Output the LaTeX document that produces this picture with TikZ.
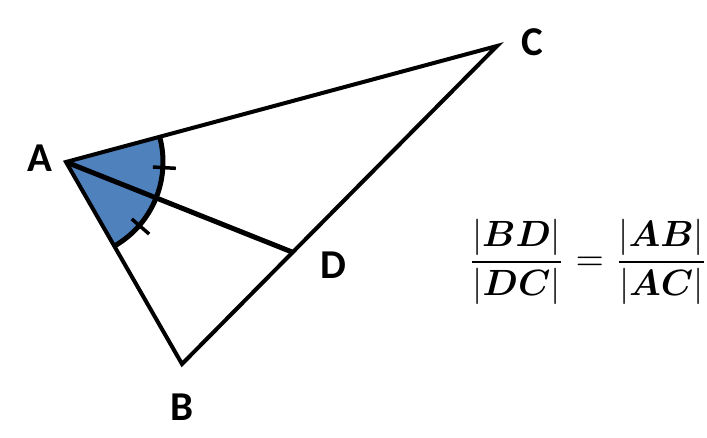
\documentclass[tikz,border=0pt]{standalone}
\usepackage{amsmath}
\usepackage{fontspec}
\usetikzlibrary{calc}
\newfontfamily\lblfont{Carlito}
\definecolor{fillblue}{HTML}{4F81BD}
\begin{document}
\begin{tikzpicture}[x=1pt,y=-1pt,
  edge/.style={line width=4pt},
  lbl/.style={font=\lblfont\bfseries\fontsize{41}{44}\selectfont,inner sep=0pt},
  tick/.style={line width=3.5pt}]
\useasboundingbox (0,0) rectangle (707,438);
\coordinate (A) at (66,162);
\coordinate (C) at (497,46);
\coordinate (B) at (182,364);
\coordinate (D) at (292,252);
% angle sector
\fill[fillblue] (A) -- ++(-15.06:97) arc[start angle=-15.06,end angle=60.1,radius=97] -- cycle;
\draw[edge] (A) -- (C) -- (B) -- cycle;
\draw[line width=5pt] (A) -- (D);
\draw[line width=5pt] ($(A)+(-15.06:97)$) arc[start angle=-15.06,end angle=60.1,radius=97];
\draw[tick] ($(A)+(3.3:87)$) -- ($(A)+(3.3:110)$);
\draw[tick] ($(A)+(40.9:87)$) -- ($(A)+(40.9:110)$);
\node[lbl] (la) at (40,158) {A};
\node[lbl] (lc) at (532,42) {C};
\node[lbl] (lb) at (182,407) {B};
\node[lbl] (ld) at (333,265) {D};
\node[inner sep=0pt,scale=3.65] (f) at (588,262) {$\dfrac{|\boldsymbol{BD}|}{|\boldsymbol{DC}|}=\dfrac{|\boldsymbol{AB}|}{|\boldsymbol{AC}|}$};
\end{tikzpicture}
\end{document}
